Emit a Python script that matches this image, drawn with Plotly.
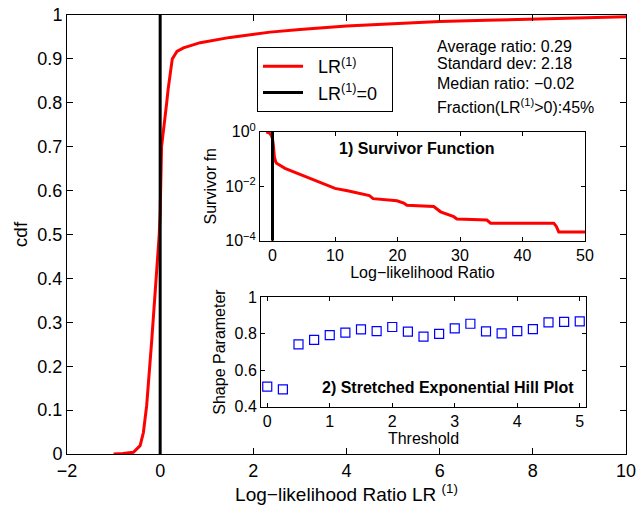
import plotly.graph_objects as go

# ---- data ----
cdf_x = [-1.0, -0.8, -0.575, -0.43, -0.36, -0.29, -0.18, -0.075, -0.02, 0.0, 0.03, 0.14, 0.17, 0.26, 0.36, 0.5, 0.86, 1.5, 2.0, 2.36, 3.0, 4.0, 5.0, 6.0, 7.0, 8.0, 9.0, 10.0]
cdf_y = [0.0, 0.001, 0.004, 0.019, 0.049, 0.11, 0.26, 0.41, 0.5, 0.55, 0.7, 0.8, 0.83, 0.9, 0.917, 0.925, 0.937, 0.949, 0.956, 0.961, 0.967, 0.975, 0.98, 0.985, 0.988, 0.991, 0.994, 0.996]

zero_x = [0, 0]
zero_y = [0, 1]

surv_x = [-1.0, -0.5, -0.15, 0.0, 0.15, 0.3, 0.5, 0.64, 2.0, 4.4, 7.1, 10.0, 12.0, 14.0, 15.5, 16.1, 19.9, 21.0, 21.5, 25.8, 26.9, 29.0, 29.5, 34.3, 34.9, 45.0, 45.4, 45.8, 50.0]
surv_y = [0.98, 0.9, 0.7, 0.55, 0.3, 0.12, 0.08, 0.07, 0.045, 0.027, 0.0155, 0.0083, 0.0068, 0.0055, 0.0045, 0.0035, 0.0029, 0.0024, 0.002, 0.0018, 0.00115, 0.00076, 0.00063, 0.00057, 0.00044, 0.00044, 0.00034, 0.00021, 0.00021]
surv_zero_y = [1e-4, 1]

hill_threshold = [0, 0.25, 0.5, 0.75, 1.0, 1.25, 1.5, 1.75, 2.0, 2.25, 2.5, 2.75, 3.0, 3.25, 3.5, 3.75, 4.0, 4.25, 4.5, 4.75, 5.0]
hill_shape = [0.51, 0.495, 0.742, 0.766, 0.793, 0.806, 0.824, 0.815, 0.837, 0.812, 0.784, 0.799, 0.830, 0.855, 0.813, 0.802, 0.815, 0.826, 0.863, 0.865, 0.868]

main_xticks = [-2, 0, 2, 4, 6, 8, 10]
main_xtick_text = ["−2", "0", "2", "4", "6", "8", "10"]
main_yticks = [0, 0.1, 0.2, 0.3, 0.4, 0.5, 0.6, 0.7, 0.8, 0.9, 1]
main_ytick_text = ["0", "0.1", "0.2", "0.3", "0.4", "0.5", "0.6", "0.7", "0.8", "0.9", "1"]
surv_xticks = [0, 10, 20, 30, 40, 50]
surv_yticks = [1, 1e-2, 1e-4]
surv_ytick_text = ["10<sup>0</sup>", "10<sup>−2</sup>", "10<sup>−4</sup>"]
hill_xticks = [0, 1, 2, 3, 4, 5]
hill_yticks = [0.4, 0.6, 0.8, 1]
hill_ytick_text = ["0.4", "0.6", "0.8", "1"]

legend_names = ["\u00a0\u00a0LR<sup>(1)</sup>", "\u00a0\u00a0LR<sup>(1)</sup>=0\u00a0\u00a0"]

stats_lines = ["Average ratio: 0.29", "Standard dev: 2.18", "Median ratio: −0.02",
               "Fraction(LR<sup>(1)</sup>&gt;0):45%"]

FONT = "Liberation Sans, Arial, Helvetica, sans-serif"
W, H = 636, 509

def px_x(p):
    return p / W

def px_y(p):
    return 1 - p / H

fig = go.Figure()

fig.add_trace(go.Scatter(x=cdf_x, y=cdf_y, mode="lines", name=legend_names[0],
                         line=dict(color="red", width=3), xaxis="x", yaxis="y"))
fig.add_trace(go.Scatter(x=zero_x, y=zero_y, mode="lines", name=legend_names[1],
                         line=dict(color="black", width=3), xaxis="x", yaxis="y"))

fig.add_trace(go.Scatter(x=surv_x, y=surv_y, mode="lines", showlegend=False,
                         line=dict(color="red", width=3), xaxis="x2", yaxis="y2"))
fig.add_trace(go.Scatter(x=zero_x, y=surv_zero_y, mode="lines", showlegend=False,
                         line=dict(color="black", width=3), xaxis="x2", yaxis="y2"))

fig.add_trace(go.Scatter(x=hill_threshold, y=hill_shape, mode="markers", showlegend=False,
                         marker=dict(symbol="square-open", size=9, color="blue",
                                     line=dict(width=1.2, color="blue")),
                         xaxis="x3", yaxis="y3"))

axis_common = dict(showline=True, linecolor="black", linewidth=1, mirror="ticks",
                   ticks="inside", tickcolor="black", showgrid=False, zeroline=False,
                   automargin=False, ticklabeloverflow="allow")

fig.update_layout(
    width=W, height=H,
    margin=dict(l=0, r=0, t=0, b=0),
    paper_bgcolor="white", plot_bgcolor="white",
    font=dict(family=FONT, color="black"),
    xaxis=dict(domain=[px_x(67), px_x(626)], range=[-2, 10], tickvals=main_xticks,
               ticktext=main_xtick_text, ticklen=6,
               tickfont=dict(size=18), anchor="y",
               title=dict(text="Log−likelihood Ratio LR <sup>(1)</sup>", font=dict(size=19), standoff=6),
               **axis_common),
    yaxis=dict(domain=[px_y(454), px_y(15)], range=[0, 1], tickvals=main_yticks,
               ticktext=main_ytick_text, ticklen=6, tickfont=dict(size=18), anchor="x",
               title=dict(text="cdf", font=dict(size=19), standoff=4),
               **axis_common),
    xaxis2=dict(domain=[px_x(260), px_x(585)], range=[-2, 50], tickvals=surv_xticks,
                ticklen=4, tickfont=dict(size=16), anchor="y2",
                title=dict(text="Log−likelihood Ratio", font=dict(size=16), standoff=2),
                **axis_common),
    yaxis2=dict(domain=[px_y(240.7), px_y(131.7)], type="log", range=[-4, 0],
                tickvals=surv_yticks, ticktext=surv_ytick_text, ticklen=4,
                tickfont=dict(size=16), anchor="x2",
                title=dict(text="Survivor fn", font=dict(size=16), standoff=4),
                **axis_common),
    xaxis3=dict(domain=[px_x(261), px_x(586)], range=[-0.1, 5.1], tickvals=hill_xticks,
                ticklen=4, tickfont=dict(size=16), anchor="y3",
                title=dict(text="Threshold", font=dict(size=16), standoff=2),
                **axis_common),
    yaxis3=dict(domain=[px_y(406.7), px_y(297.3)], range=[0.4, 1], tickvals=hill_yticks,
                ticktext=hill_ytick_text, ticklen=4, tickfont=dict(size=16), anchor="x3",
                title=dict(text="Shape Parameter", font=dict(size=16), standoff=4),
                **axis_common),
    legend=dict(x=px_x(257), y=px_y(47), xanchor="left", yanchor="top",
                bordercolor="black", borderwidth=1, bgcolor="white",
                font=dict(size=18, family=FONT), itemwidth=40, tracegroupgap=0),
)

# statistics text
stats_y = [46, 63, 83, 106]
for txt, yy in zip(stats_lines, stats_y):
    fig.add_annotation(x=px_x(435), y=px_y(yy), xref="paper", yref="paper", text=txt,
                       showarrow=False, xanchor="left", yanchor="middle",
                       font=dict(size=16, family=FONT, color="black"))

# inset titles
fig.add_annotation(x=px_x(417), y=px_y(148), xref="paper", yref="paper",
                   text="<b>1) Survivor Function</b>", showarrow=False,
                   xanchor="center", yanchor="middle", font=dict(size=16, family=FONT))
fig.add_annotation(x=px_x(448), y=px_y(387), xref="paper", yref="paper",
                   text="<b>2) Stretched Exponential Hill Plot</b>", showarrow=False,
                   xanchor="center", yanchor="middle", font=dict(size=16, family=FONT))

fig.write_html("out.html", config={"displayModeBar": False},
               post_script="document.body.style.margin='0';document.body.style.overflow='hidden';")
